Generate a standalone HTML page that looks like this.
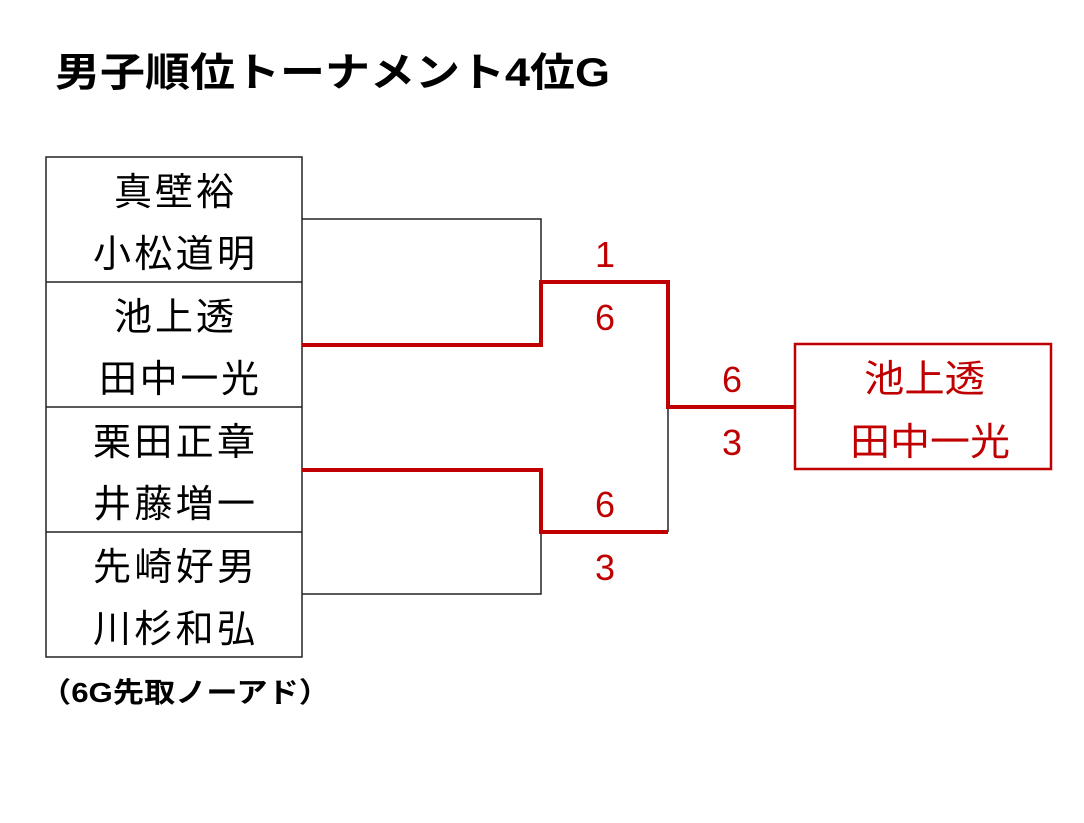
<!DOCTYPE html>
<html><head><meta charset="utf-8"><style>
html,body{margin:0;padding:0;background:#fff;}
svg{display:block;}
text{font-family:"Liberation Sans","Noto Sans CJK JP",sans-serif;}
</style></head><body>
<svg width="1084" height="823" viewBox="0 0 1084 823" xmlns="http://www.w3.org/2000/svg">
<text x="55" y="86" font-size="40" font-weight="bold" fill="#000" textLength="555" lengthAdjust="spacingAndGlyphs">男子順位トーナメント4位G</text>
<g fill="none" stroke="#222" stroke-width="1.5">
<rect x="46" y="157" width="256" height="500"/>
<line x1="46" y1="282" x2="302" y2="282"/>
<line x1="46" y1="407" x2="302" y2="407"/>
<line x1="46" y1="532" x2="302" y2="532"/>
<polyline points="302,219 541,219 541,282"/>
<polyline points="302,594 541,594 541,532"/>
<line x1="668" y1="407" x2="668" y2="532"/>
</g>
<g fill="none" stroke="#c00000" stroke-width="4">
<polyline points="302,345 541,345 541,282 668,282 668,407 795,407"/>
<polyline points="302,470 541,470 541,532 668,532"/>
</g>
<rect x="795" y="344" width="256" height="125" fill="none" stroke="#c00000" stroke-width="2.5"/>
<g font-size="38" fill="#000" lengthAdjust="spacingAndGlyphs">
<text x="114" y="205" textLength="120">真壁裕</text>
<text x="93" y="267" textLength="162">小松道明</text>
<text x="114" y="330" textLength="120">池上透</text>
<text x="99" y="392" textLength="160">田中一光</text>
<text x="93" y="455" textLength="162">栗田正章</text>
<text x="93" y="517" textLength="162">井藤増一</text>
<text x="93" y="580" textLength="162">先崎好男</text>
<text x="93" y="642" textLength="162">川杉和弘</text>
</g>
<g font-size="36" fill="#c00000" text-anchor="middle">
<text x="605" y="267">1</text>
<text x="605" y="330">6</text>
<text x="605" y="517">6</text>
<text x="605" y="580">3</text>
<text x="732" y="392">6</text>
<text x="732" y="455">3</text>
</g>
<g font-size="38" fill="#c00000">
<text x="864" y="392" textLength="121" lengthAdjust="spacingAndGlyphs">池上透</text>
<text x="850" y="455" textLength="160" lengthAdjust="spacingAndGlyphs">田中一光</text>
</g>
<text x="40" y="702" font-size="28" font-weight="bold" fill="#000" textLength="290" lengthAdjust="spacingAndGlyphs">（6G先取ノーアド）</text>
</svg>
</body></html>
